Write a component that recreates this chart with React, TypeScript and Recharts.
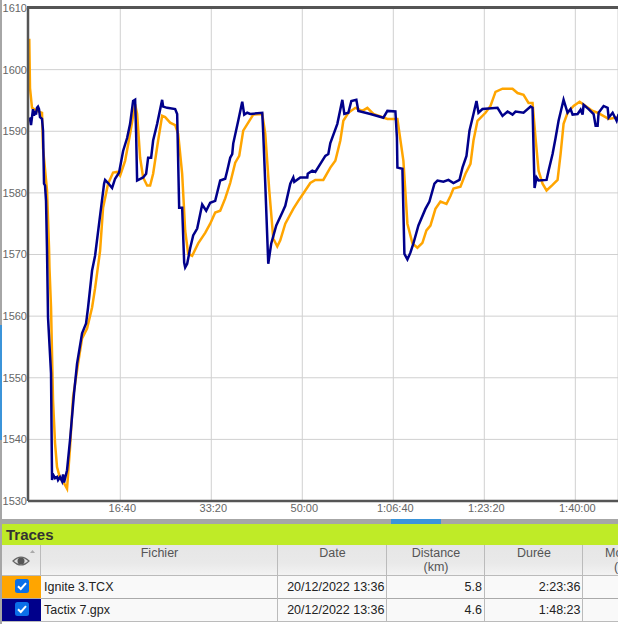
import { CartesianGrid, Line, LineChart, XAxis, YAxis } from 'recharts'

const FONT = '"Liberation Sans", Arial, sans-serif'

const TIME_TICKS = [1000, 2000, 3000, 4000, 5000, 6000]
const ELEVATION_TICKS = [1530, 1540, 1550, 1560, 1570, 1580, 1590, 1600, 1610]

const igniteTimes = [
  0, 8, 30, 85, 140, 151, 195, 217, 222, 239, 261, 283, 305, 338, 371, 415, 448, 481, 536, 580, 635, 690, 723, 778,
  811, 866, 921, 965, 998, 1053, 1108, 1163, 1185, 1218, 1251, 1295, 1328, 1361, 1416, 1460, 1493, 1548, 1603, 1636,
  1680, 1713, 1746, 1790, 1856, 1933, 1988, 2043, 2098, 2153, 2208, 2263, 2307, 2351, 2406, 2461, 2560, 2593, 2637,
  2681, 2725, 2758, 2813, 2901, 2956, 3011, 3088, 3143, 3231, 3308, 3363, 3418, 3451, 3506, 3583, 3660, 3715, 3781,
  3935, 4045, 4111, 4155, 4210, 4265, 4320, 4364, 4408, 4463, 4518, 4584, 4628, 4661, 4738, 4793, 4848, 4881, 4925,
  5013, 5068, 5123, 5200, 5310, 5365, 5431, 5486, 5530, 5563, 5596, 5640, 5684, 5750, 5805, 5838, 5871, 5915, 5981,
  6047, 6113, 6190, 6245, 6366, 6476,
]
const igniteElevation = [
  1605.0, 1597.0, 1593.8, 1593.3, 1593.0, 1587.3, 1580.4, 1571.1, 1567.8, 1561.4, 1546.3, 1539.4, 1535.5, 1533.7,
  1533.2, 1532.0, 1538.7, 1546.8, 1552.3, 1556.4, 1558.0, 1561.4, 1564.5, 1570.6, 1577.6, 1581.5, 1583.3, 1583.4,
  1582.8, 1585.2, 1589.6, 1594.4, 1592.8, 1585.7, 1582.5, 1581.2, 1581.2, 1583.1, 1588.5, 1592.5, 1592.3, 1591.4,
  1591.0, 1589.6, 1583.1, 1573.9, 1570.1, 1569.8, 1571.8, 1573.5, 1575.0, 1576.8, 1577.1, 1579.1, 1581.6, 1584.9,
  1586.0, 1590.1, 1591.4, 1592.7, 1592.8, 1589.6, 1580.4, 1572.6, 1571.3, 1572.3, 1575.0, 1577.4, 1578.7, 1579.9,
  1581.6, 1582.1, 1582.1, 1584.1, 1585.2, 1588.5, 1591.7, 1593.0, 1593.8, 1593.3, 1593.8, 1592.8, 1592.0, 1592.0,
  1585.2, 1575.0, 1571.8, 1571.1, 1571.9, 1573.9, 1574.7, 1577.4, 1578.6, 1578.2, 1579.5, 1580.7, 1581.0, 1583.1,
  1584.7, 1588.5, 1591.7, 1593.0, 1594.1, 1596.4, 1596.9, 1596.9, 1596.2, 1595.9, 1594.6, 1594.6, 1588.9, 1583.6,
  1581.5, 1580.4, 1581.3, 1582.1, 1586.3, 1591.2, 1593.0, 1594.1, 1594.8, 1594.1, 1593.3, 1593.0, 1592.0, 1592.3,
]

const tactixTimes = [
  0, 8, 19, 41, 52, 63, 74, 85, 96, 107, 118, 140, 151, 162, 173, 184, 195, 206, 239, 250, 261, 283, 305, 316, 338,
  360, 371, 382, 415, 448, 492, 525, 580, 624, 646, 690, 723, 778, 822, 833, 866, 910, 943, 987, 1031, 1075, 1108,
  1141, 1163, 1174, 1185, 1251, 1284, 1306, 1339, 1361, 1405, 1460, 1471, 1515, 1603, 1625, 1647, 1680, 1702, 1713,
  1735, 1768, 1801, 1845, 1900, 1944, 1988, 2043, 2098, 2153, 2175, 2208, 2230, 2241, 2296, 2340, 2362, 2395, 2428,
  2560, 2571, 2593, 2626, 2659, 2714, 2780, 2813, 2868, 2901, 2912, 2978, 3055, 3060, 3110, 3143, 3253, 3286, 3308,
  3385, 3440, 3462, 3506, 3539, 3594, 3616, 3748, 3891, 3935, 4023, 4040, 4045, 4100, 4122, 4155, 4188, 4221, 4276,
  4353, 4397, 4452, 4485, 4551, 4606, 4661, 4727, 4760, 4804, 4837, 4881, 4914, 4936, 4980, 5145, 5200, 5255, 5310,
  5343, 5431, 5508, 5530, 5541, 5552, 5574, 5596, 5684, 5706, 5750, 5783, 5816, 5871, 5915, 5948, 5970, 6025, 6058,
  6080, 6091, 6146, 6201, 6223, 6245, 6256, 6311, 6355, 6366, 6410, 6454, 6476,
]
const tactixElevation = [
  1592.2, 1592.0, 1591.0, 1593.6, 1592.5, 1593.3, 1592.7, 1593.8, 1594.0, 1593.6, 1592.3, 1592.0, 1590.1, 1581.5,
  1581.2, 1578.7, 1570.6, 1559.8, 1550.7, 1533.4, 1534.3, 1533.7, 1533.9, 1533.4, 1533.9, 1533.2, 1534.3, 1533.0,
  1535.0, 1539.9, 1547.5, 1552.3, 1557.2, 1558.8, 1561.4, 1567.4, 1569.8, 1576.3, 1581.5, 1582.1, 1581.6, 1580.8,
  1582.3, 1583.3, 1586.8, 1588.9, 1591.2, 1594.9, 1595.1, 1589.6, 1582.0, 1582.5, 1583.1, 1585.7, 1585.7, 1588.5,
  1591.2, 1595.1, 1594.0, 1593.8, 1593.6, 1592.8, 1577.6, 1577.6, 1568.7, 1567.9, 1568.5, 1571.0, 1573.1, 1574.2,
  1578.1, 1577.1, 1578.4, 1578.7, 1582.0, 1582.3, 1583.6, 1585.7, 1586.3, 1588.0, 1591.7, 1594.8, 1592.7, 1593.0,
  1592.8, 1593.0, 1589.6, 1581.5, 1568.5, 1571.8, 1574.7, 1576.8, 1577.9, 1581.5, 1582.5, 1581.8, 1582.5, 1582.5,
  1583.1, 1583.6, 1583.4, 1586.0, 1586.3, 1588.1, 1591.2, 1595.1, 1592.8, 1593.0, 1594.9, 1595.1, 1593.3, 1592.8,
  1592.2, 1593.3, 1593.2, 1588.9, 1584.1, 1583.9, 1570.1, 1569.2, 1570.3, 1571.8, 1574.7, 1577.4, 1578.6, 1581.5,
  1582.0, 1581.8, 1582.1, 1581.6, 1582.1, 1584.1, 1586.0, 1590.1, 1592.8, 1594.9, 1593.0, 1593.6, 1593.8, 1592.5,
  1593.2, 1592.7, 1593.2, 1593.0, 1594.0, 1593.8, 1587.3, 1580.8, 1582.5, 1582.0, 1582.1, 1583.6, 1586.3, 1588.9,
  1591.7, 1595.1, 1593.0, 1593.6, 1592.7, 1592.8, 1593.5, 1592.7, 1594.3, 1593.6, 1592.8, 1590.9, 1590.9, 1593.0,
  1594.1, 1593.8, 1592.2, 1593.0, 1591.7, 1592.8,
]

const igniteData = igniteTimes.map((time, i) => ({ time, elevation: igniteElevation[i] }))
const tactixData = tactixTimes.map((time, i) => ({ time, elevation: tactixElevation[i] }))

const tableRows = [
  { color: '#ffa500', file: 'Ignite 3.TCX', date: '20/12/2022 13:36', distance: '5.8', duration: '2:23:36' },
  { color: '#00008b', file: 'Tactix 7.gpx', date: '20/12/2022 13:36', distance: '4.6', duration: '1:48:23' },
]

const COLUMNS = [2, 41, 278, 387, 485, 583]

function formatTime(seconds: number) {
  const h = Math.floor(seconds / 3600)
  const m = Math.floor((seconds % 3600) / 60)
  const s = seconds % 60
  const mm = String(m).padStart(2, '0')
  const ss = String(s).padStart(2, '0')
  return h > 0 ? `${h}:${mm}:${ss}` : `${m}:${ss}`
}

function Cell({
  left,
  top,
  width,
  height,
  align = 'left',
  color = '#222',
  children,
}: {
  left: number
  top: number
  width: number
  height: number
  align?: 'left' | 'right' | 'center'
  color?: string
  children: React.ReactNode
}) {
  return (
    <div
      style={{
        position: 'absolute',
        left,
        top,
        width,
        height,
        lineHeight: `${height}px`,
        textAlign: align,
        color,
        whiteSpace: 'nowrap',
      }}
    >
      {children}
    </div>
  )
}

function Checkbox({ top }: { top: number }) {
  return (
    <svg style={{ position: 'absolute', left: 15, top }} width={14} height={14}>
      <rect x={0} y={0} width={14} height={14} rx={2.5} fill="#0b6fe8" />
      <path d="M3 7.2 L5.8 10 L11 4.2" fill="none" stroke="#fff" strokeWidth={2} />
    </svg>
  )
}

function TracesTable() {
  return (
    <div style={{ position: 'absolute', left: 0, top: 519, width: 618, height: 105, fontFamily: FONT, fontSize: 12.5 }}>
      <div style={{ position: 'absolute', left: 0, top: 0, width: 618, height: 5, background: '#a6a6a6' }} />
      <div style={{ position: 'absolute', left: 391, top: 0, width: 50, height: 5, background: '#3b94d9' }} />
      <div style={{ position: 'absolute', left: 2, top: 5, width: 616, height: 21, background: '#bfeb27' }} />
      <div
        style={{
          position: 'absolute',
          left: 6,
          top: 5,
          height: 21,
          lineHeight: '21px',
          fontSize: 15,
          fontWeight: 'bold',
          color: '#333',
        }}
      >
        Traces
      </div>
      <div
        style={{
          position: 'absolute',
          left: 2,
          top: 26,
          width: 616,
          height: 30,
          background: 'linear-gradient(#e6e6e6, #e9e9e9 60%, #f3f3f3)',
          borderBottom: '1px solid #bbb',
        }}
      />
      <div style={{ position: 'absolute', left: 2, top: 57, width: 616, height: 45, background: '#f9f9f9' }} />
      <div style={{ position: 'absolute', left: 2, top: 79, width: 616, height: 1, background: '#aaa' }} />
      <div style={{ position: 'absolute', left: 2, top: 102, width: 616, height: 1, background: '#bbb' }} />
      {COLUMNS.slice(1).map((x) => (
        <div key={x} style={{ position: 'absolute', left: x - 1, top: 26, width: 1, height: 77, background: '#bbb' }} />
      ))}
      <svg style={{ position: 'absolute', left: 12, top: 30 }} width={28} height={24}>
        <path d="M18 3 L23 3 L20.5 0 Z" fill="#aaa" transform="translate(0 1)" />
        <path d="M1 12 Q9 4 17 12 Q9 20 1 12 Z" fill="#ddd" stroke="#666" strokeWidth={1.2} />
        <circle cx={9} cy={12} r={3.5} fill="#555" />
      </svg>
      <Cell left={41} top={26} width={237} height={16} align="center" color="#555">
        Fichier
      </Cell>
      <Cell left={278} top={26} width={109} height={16} align="center" color="#555">
        Date
      </Cell>
      <Cell left={387} top={26} width={98} height={16} align="center" color="#555">
        Distance
      </Cell>
      <Cell left={387} top={40} width={98} height={16} align="center" color="#555">
        (km)
      </Cell>
      <Cell left={485} top={26} width={98} height={16} align="center" color="#555">
        Durée
      </Cell>
      <Cell left={605} top={26} width={13} height={16} color="#555">
        Mo
      </Cell>
      <Cell left={614} top={40} width={4} height={16} color="#555">
        (
      </Cell>
      {tableRows.map((row, i) => {
        const top = 57 + i * 23
        return (
          <div key={row.file}>
            <div style={{ position: 'absolute', left: 2, top, width: 39, height: 22, background: row.color }} />
            <Checkbox top={top + 3} />
            <Cell left={44} top={top} width={230} height={22}>
              {row.file}
            </Cell>
            <Cell left={278} top={top} width={106.5} height={22} align="right">
              {row.date}
            </Cell>
            <Cell left={387} top={top} width={95} height={22} align="right">
              {row.distance}
            </Cell>
            <Cell left={485} top={top} width={95.5} height={22} align="right">
              {row.duration}
            </Cell>
          </div>
        )
      })}
    </div>
  )
}

export default function App() {
  return (
    <div
      style={{
        position: 'absolute',
        left: 0,
        top: 0,
        width: 618,
        height: 624,
        overflow: 'hidden',
        background: '#fff',
      }}
    >
      <LineChart
        width={618}
        height={521}
        margin={{ top: 8, right: 0, bottom: 0, left: 0 }}
        style={{ fontFamily: FONT }}
      >
        <CartesianGrid stroke="#d0d0d0" strokeWidth={1} />
        <XAxis
          type="number"
          dataKey="time"
          domain={[-14, 6469]}
          allowDataOverflow
          ticks={TIME_TICKS}
          tickFormatter={formatTime}
          height={20}
          tickSize={0}
          tickMargin={3}
          tick={{ fontSize: 11, fill: '#666', dx: 2 }}
          axisLine={{ stroke: '#555', strokeWidth: 2.5 }}
        />
        <YAxis
          type="number"
          domain={[1530, 1610]}
          ticks={ELEVATION_TICKS}
          width={28}
          tickSize={0}
          tickMargin={1}
          tick={{ fontSize: 11, fill: '#666' }}
          axisLine={{ stroke: '#555', strokeWidth: 2.5 }}
        />
        <Line
          data={igniteData}
          dataKey="elevation"
          type="linear"
          stroke="#ffa500"
          strokeWidth={2.5}
          dot={false}
          isAnimationActive={false}
        />
        <Line
          data={tactixData}
          dataKey="elevation"
          type="linear"
          stroke="#00008b"
          strokeWidth={2.5}
          dot={false}
          isAnimationActive={false}
        />
      </LineChart>
      <div style={{ position: 'absolute', left: 27, top: 6, width: 591, height: 2.5, background: '#555' }} />
      <div style={{ position: 'absolute', left: 0, top: 0, width: 2, height: 624, background: '#a6a6a6' }} />
      <div style={{ position: 'absolute', left: 0, top: 325, width: 2, height: 115, background: '#3b94d9' }} />
      <TracesTable />
    </div>
  )
}
